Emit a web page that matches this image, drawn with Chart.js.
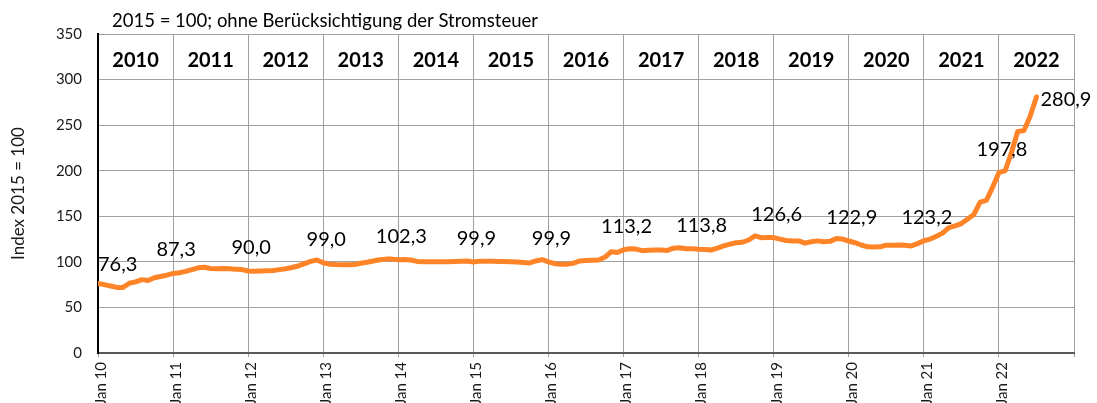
<!DOCTYPE html>
<html><head><meta charset="utf-8">
<script src="https://cdn.jsdelivr.net/npm/chart.js@4.4.1/dist/chart.umd.min.js"></script>
<style>html,body{margin:0;padding:0;background:#fff;overflow:hidden}#wrap{width:1097px;height:403px;position:relative}</style>
</head><body><div id="wrap"><canvas id="c" width="1097" height="403"></canvas></div>
<script>
const chartTitle = '2015 = 100; ohne Berücksichtigung der Stromsteuer';
const yAxisTitle = 'Index 2015 = 100';
const years = ['2010','2011','2012','2013','2014','2015','2016','2017','2018','2019','2020','2021','2022'];
const tickLabels = ['Jan 10','Jan 11','Jan 12','Jan 13','Jan 14','Jan 15','Jan 16','Jan 17','Jan 18','Jan 19','Jan 20','Jan 21','Jan 22'];
const yTicks = [0,50,100,150,200,250,300,350];

const d2010 = [76.3, 75, 73.5, 72, 72, 76.5, 78, 80.5, 79.5, 82.5, 84, 85.5];
const d2011 = [87.3, 88, 89.5, 91.5, 93.5, 94, 92.8, 92.5, 92.7, 92.5, 92, 91.5];
const d2012 = [90.0, 89.8, 90, 90.2, 90.5, 91.5, 92.5, 93.8, 95.5, 98, 100.5, 102];
const d2013 = [99.0, 97.5, 97, 96.8, 96.8, 97, 98.5, 99.5, 101, 102.3, 103, 103];
const d2014 = [102.3, 102.6, 102, 100.5, 100, 100, 100, 100, 100.2, 100.5, 100.8, 101];
const d2015 = [99.9, 100.8, 100.7, 100.6, 100.5, 100.3, 100, 99.8, 99.3, 98.8, 101, 102.5];
const d2016 = [99.9, 98, 97.3, 97.5, 98.5, 101, 101.5, 101.8, 102, 105, 111, 110.3];
const d2017 = [113.2, 114.3, 114, 112.3, 112.8, 113, 113, 112.5, 115, 115.5, 114.3, 114.3];
const d2018 = [113.8, 113.5, 113, 115, 117.5, 119.5, 121, 121.5, 124, 128.5, 126.5, 126.7];
const d2019 = [126.6, 125, 123.5, 123, 123, 120.5, 122, 123, 122, 122.5, 125.5, 125];
const d2020 = [122.9, 121, 118.5, 116.5, 116.3, 116.5, 118.3, 118.3, 118.5, 118.3, 117.5, 120];
const d2021 = [123.2, 125, 128, 131.5, 137.5, 139.5, 142, 147, 152, 165.5, 167.5, 182];
const d2022 = [197.8, 200, 220, 243, 244, 260, 280.9];

const labelMonths = [0,12,24,36,48,60,72,84,96,108,120,132,144,150];

const series = [].concat(d2010,d2011,d2012,d2013,d2014,d2015,d2016,d2017,d2018,d2019,d2020,d2021,d2022);
const points = series.map((v,i)=>({x:i,y:v}));

const FONT = 'Lato, "Open Sans", sans-serif';

const overlay = {
  id:'overlay',
  afterDatasetsDraw(chart){
    const ctx = chart.ctx, xs = chart.scales.x, ys = chart.scales.y;
    ctx.save();
    ctx.fillStyle = '#000';
    ctx.font = '18.5px ' + FONT;
    ctx.textAlign = 'left'; ctx.textBaseline = 'alphabetic';
    ctx.fillText(chartTitle, chart.chartArea.left + 14, 27);
    const yTop = ys.getPixelForValue(350);
    ctx.font = 'bold 20px ' + FONT;
    ctx.textAlign = 'center';
    years.forEach((yr,k)=>{
      const cx = xs.getPixelForValue(k*12+6);
      ctx.fillText(yr, cx, yTop + 33);
    });
    const meta = chart.getDatasetMeta(0);
    ctx.font = '20px ' + FONT;
    labelMonths.forEach((m,k)=>{
      const el = meta.data[m];
      const txt = series[m].toFixed(1).replace('.', ',');
      if (k === 0) { ctx.textAlign='left'; ctx.fillText(txt, el.x, el.y - 12); }
      else if (k === labelMonths.length-1) { ctx.textAlign='left'; ctx.fillText(txt, el.x + 4, el.y + 9); }
      else { ctx.textAlign='center'; ctx.fillText(txt, el.x + 3, el.y - 17); }
    });
    ctx.restore();
  }
};

new Chart(document.getElementById('c'), {
  type:'line',
  data:{ datasets:[{ data: points, borderColor:'#ff8427', borderWidth:5, pointRadius:0, tension:0,
    borderCapStyle:'round', borderJoinStyle:'round', fill:false }] },
  options:{
    responsive:false, animation:false, devicePixelRatio:1,
    layout:{ padding:{ top:34, right:19, left:0, bottom:0 } },
    plugins:{ legend:{display:false}, tooltip:{enabled:false}, title:{display:false} },
    scales:{
      x:{ type:'linear', min:0, max:156,
        afterFit(s){ s.height = 50; },
        grid:{ color:'#a0a0a0', lineWidth:1, drawTicks:true, tickLength:4, tickColor:'#a0a0a0' },
        border:{ color:'#595959', width:2 },
        ticks:{ stepSize:12, autoSkip:false, minRotation:90, maxRotation:90, padding:5, labelOffset:3,
          color:'#1a1a1a', font:{ family:FONT, size:15 },
          callback:(v)=> (v % 12 === 0 && tickLabels[v/12] !== undefined) ? tickLabels[v/12] : '' }
      },
      y:{ min:0, max:350,
        afterFit(s){ s.width = 98; },
        afterBuildTicks(s){ s.ticks = yTicks.map(v=>({value:v})); },
        grid:{ color:'#a0a0a0', lineWidth:1, drawTicks:false },
        border:{ color:'#000', width:2 },
        ticks:{ padding:16, color:'#1a1a1a', font:{ family:FONT, size:15 } },
        title:{ display:true, text:yAxisTitle, color:'#1a1a1a', font:{ family:FONT, size:17 }, padding:{top:8,bottom:0} }
      }
    }
  },
  plugins:[overlay]
});
</script></body></html>
